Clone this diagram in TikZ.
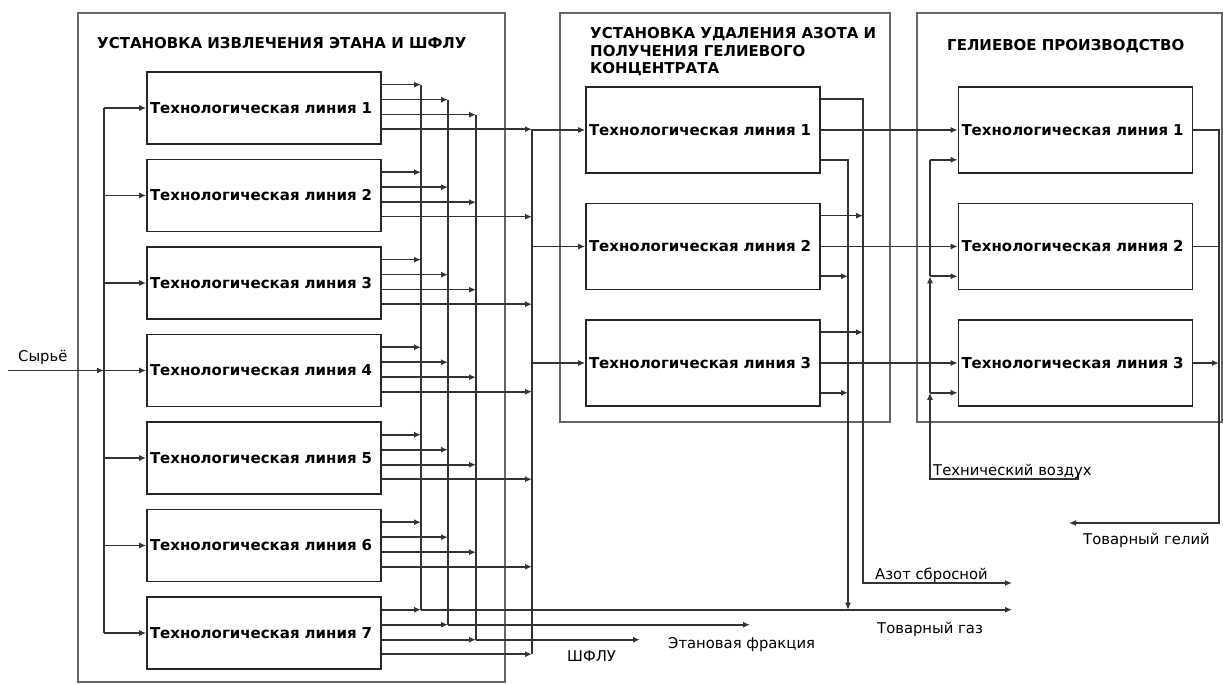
\documentclass[tikz,border=0pt]{standalone}
\usepackage{fontspec}
\setmainfont{DejaVu Sans}
\usetikzlibrary{arrows.meta,calc}
\begin{document}
\begin{tikzpicture}[x=1pt,y=-1pt,
  frame/.style={draw=black!60, line width=1.6pt, inner sep=0pt, outer sep=0pt, anchor=north west},
  lbox/.style={draw=black!85, line width=1.6pt, minimum width=234pt, minimum height=72pt, text width=228pt, inner xsep=3pt, inner ysep=0pt, align=left, font=\bfseries\fontsize{15}{18}\selectfont},
  mbox/.style={lbox, minimum height=86pt},
  flow/.style={draw=black!80, line width=1.6pt},
  arr/.style={flow, -{Latex[length=7pt,width=6pt]}},
  lbl/.style={font=\fontsize{14.8}{17}\selectfont, inner sep=0pt, anchor=base west},
  ttl/.style={font=\bfseries\fontsize{15}{17.5}\selectfont, inner sep=0pt, align=left}]
\useasboundingbox (0,0) rectangle (1223,684);
\fill[white] (0,0) rectangle (1223,684);

% frames
\node[frame, minimum width=427pt, minimum height=669pt] (F1) at (78,13) {};
\node[frame, minimum width=330pt, minimum height=409pt] (F2) at (560,13) {};
\node[frame, minimum width=305pt, minimum height=409pt] (F3) at (917,13) {};

% titles
\node[ttl, anchor=base west] (T1) at (97,48.5) {УСТАНОВКА ИЗВЛЕЧЕНИЯ ЭТАНА И ШФЛУ};
\node[ttl, anchor=north west] (T2) at (590,27.5) {УСТАНОВКА УДАЛЕНИЯ АЗОТА И\\ПОЛУЧЕНИЯ ГЕЛИЕВОГО\\КОНЦЕНТРАТА};
\node[ttl, anchor=base west] (T3) at (947,50.5) {ГЕЛИЕВОЕ ПРОИЗВОДСТВО};

% boxes
\foreach \i in {1,...,7}{
  \pgfmathsetmacro\yc{108+(\i-1)*87.5}
  \node[lbox] (L\i) at (264,\yc) {Технологическая линия \i};
}
\foreach \i/\yc in {1/130,2/246.5,3/363}{
  \node[mbox] (M\i) at (703,\yc) {Технологическая линия \i};
  \node[mbox] (H\i) at (1075.5,\yc) {Технологическая линия \i};
}

% bus positions
\coordinate (src) at (8,0);
\coordinate (busS) at (104,0);
\coordinate (busA) at (421,0);
\coordinate (busB) at (448,0);
\coordinate (busC) at (476,0);
\coordinate (busD) at (532,0);
\coordinate (busG) at (848,0);
\coordinate (busN) at (863,0);
\coordinate (busAir) at (930,0);
\coordinate (busHe) at (1219,0);
\coordinate (gasEnd) at (1012,0);
\coordinate (ethEnd) at (750,0);
\coordinate (ngEnd) at (640,0);

% feed
\draw[arr] (src |- L4.west) -- (busS |- L4.west);
\draw[flow] (busS |- L1.west) -- (busS |- L7.west);
\foreach \i in {1,...,7} \draw[arr] (busS |- L\i.west) -- (L\i.west);
\node[lbl] (sLbl) at (18,362) {Сырьё};

% outputs of first unit
\foreach \i in {1,...,7}{
  \foreach \k/\o/\b in {1/13.5/busA,2/28.5/busB,3/43.5/busC,4/58/busD}{
    \coordinate (o\i\k) at ($(L\i.north east)+(0,\o)$);
    \draw[arr] (o\i\k) -- (o\i\k -| \b);
  }
}
\draw[flow] (o11 -| busA) -- (o71 -| busA);
\draw[flow] (o12 -| busB) -- (o72 -| busB);
\draw[flow] (o13 -| busC) -- (o73 -| busC);
\draw[flow] (o14 -| busD) -- (o74 -| busD);
\draw[arr] (o71 -| busA) -- (o71 -| gasEnd);
\draw[arr] (o72 -| busB) -- (o72 -| ethEnd);
\draw[arr] (o73 -| busC) -- (o73 -| ngEnd);
\foreach \i in {1,2,3} \draw[arr] (busD |- M\i.west) -- (M\i.west);

% second unit
\coordinate (azEnd) at (1012,583);
\foreach \i in {1,2,3}{
  \coordinate (mt\i) at ($(M\i.north east)+(0,13)$);
  \coordinate (mb\i) at ($(M\i.south east)+(0,-14)$);
  \draw[arr] (M\i.east) -- (H\i.west);
}
\draw[arr] (mt1) -- (mt1 -| busN) -- (busN |- azEnd) -- (azEnd);
\draw[arr] (mb1) -- (mb1 -| busG) -- (busG |- o71);
\foreach \i in {2,3}{
  \draw[arr] (mt\i) -- (mt\i -| busN);
  \draw[arr] (mb\i) -- (mb\i -| busG);
}
\node[lbl] (azLbl) at (875,579) {Азот сбросной};
\node[lbl] (gasLbl) at (877,633) {Товарный газ};
\node[lbl] (ethLbl) at (668,648) {Этановая фракция};
\node[lbl] (ngLbl) at (567,661) {ШФЛУ};

% helium unit
\foreach \i in {1,2,3} \coordinate (ha\i) at ($(H\i.south west)+(0,-14)$);
\coordinate (airTick) at (1078,474);
\coordinate (airEnd) at (1078,479);
\draw[arr] (airTick) -- (airEnd) -- (airEnd -| busAir) -- (busAir |- ha3);
\draw[arr] (busAir |- ha3) -- (busAir |- ha2);
\draw[flow] (busAir |- ha2) -- (busAir |- ha1);
\foreach \i in {1,2,3} \draw[arr] (busAir |- ha\i) -- (ha\i);
\node[lbl] (airLbl) at (933,475) {Технический воздух};

\coordinate (heEnd) at (1069,523);
\draw[arr] (H1.east) -- (H1.east -| busHe) -- (busHe |- heEnd) -- (heEnd);
\draw[flow] (H2.east) -- (H2.east -| busHe);
\draw[arr] (H3.east) -- (H3.east -| busHe);
\node[lbl] (heLbl) at (1083,544) {Товарный гелий};
\end{tikzpicture}
\end{document}
